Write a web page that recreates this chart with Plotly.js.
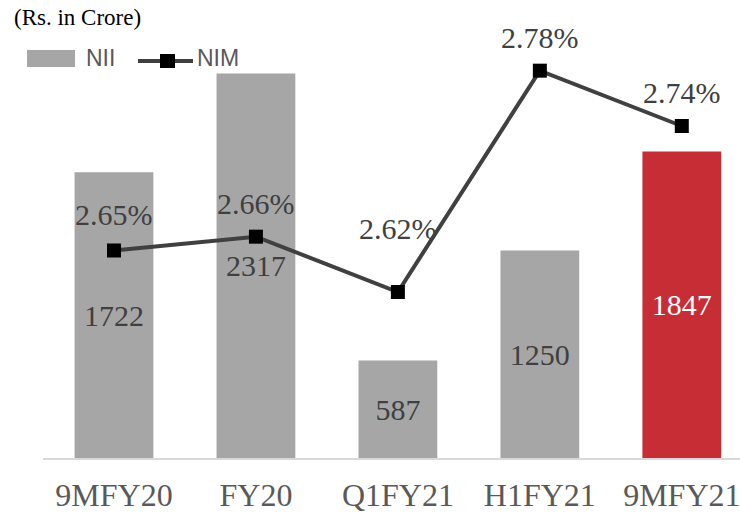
<!DOCTYPE html>
<html>
<head>
<meta charset="utf-8">
<script src="https://cdn.plot.ly/plotly-3.0.1.min.js"></script>
<style>html,body{margin:0;padding:0;background:#fff;}#chart{width:740px;height:513px;}</style>
</head>
<body>
<div id="chart"></div>
<script>
// ---- data ----
const categories = ["9MFY20", "FY20", "Q1FY21", "H1FY21", "9MFY21"];
const niiValues = [1722, 2317, 587, 1250, 1847];
const nimValues = [2.65, 2.66, 2.62, 2.78, 2.74];
const nimLabels = ["2.65%", "2.66%", "2.62%", "2.78%", "2.74%"];

// ---- style ----
const barColors = ["#a6a6a6", "#a6a6a6", "#a6a6a6", "#a6a6a6", "#c62d35"];
const barTextColors = ["#404040", "#404040", "#404040", "#404040", "#ffffff"];
const nimLabelShift = [36, 33, 64, 33, 34];
const serif = "Liberation Serif, Times New Roman, serif";
const sans = "Liberation Sans, Arial, sans-serif";

const W = 740, H = 513, mL = 43, mR = 0, mT = 43, mB = 55;
const pw = W - mL - mR, ph = H - mT - mB;
const px = v => (v - mL) / pw;
const py = v => (H - mB - v) / ph;

const traces = [
  {
    type: "bar",
    x: categories,
    y: niiValues,
    name: "NII",
    width: 0.555,
    marker: { color: barColors },
    text: niiValues.map(String),
    textposition: "inside",
    insidetextanchor: "middle",
    textangle: 0,
    constraintext: "none",
    textfont: { family: serif, size: 30, color: barTextColors },
    hoverinfo: "x+y",
    showlegend: false
  },
  {
    type: "scatter",
    mode: "lines+markers",
    x: categories,
    y: nimValues,
    yaxis: "y2",
    name: "NIM",
    line: { color: "#404040", width: 4 },
    marker: { symbol: "square", size: 14, color: "#000000" },
    showlegend: false
  }
];

const annotations = categories.map((c, i) => ({
  x: c, y: nimValues[i], xref: "x", yref: "y2",
  text: nimLabels[i], showarrow: false,
  yanchor: "middle", xanchor: "center", yshift: nimLabelShift[i],
  font: { family: serif, size: 30, color: "#404040" }
}));

annotations.push({
  xref: "paper", yref: "paper", x: px(12), y: py(18),
  xanchor: "left", yanchor: "middle", showarrow: false,
  text: "(Rs. in Crore)", font: { family: serif, size: 23, color: "#000000" }
});
annotations.push({
  xref: "paper", yref: "paper", x: px(84), y: py(58),
  xanchor: "left", yanchor: "middle", showarrow: false,
  text: "NII", font: { family: sans, size: 23, color: "#595959" }
});
annotations.push({
  xref: "paper", yref: "paper", x: px(195), y: py(58),
  xanchor: "left", yanchor: "middle", showarrow: false,
  text: "NIM", font: { family: sans, size: 23, color: "#595959" }
});

const shapes = [
  { type: "rect", xref: "paper", yref: "paper", x0: px(27), x1: px(75), y0: py(50), y1: py(67),
    fillcolor: "#a6a6a6", line: { width: 0 } },
  { type: "line", xref: "paper", yref: "paper", x0: px(138), x1: px(193), y0: py(61), y1: py(61),
    line: { color: "#404040", width: 4 } },
  { type: "rect", xref: "paper", yref: "paper", x0: px(160), x1: px(175), y0: py(54), y1: py(68),
    fillcolor: "#000000", line: { width: 0 } }
];

const layout = {
  width: W, height: H,
  margin: { l: mL, r: mR, t: mT, b: mB, pad: 0 },
  paper_bgcolor: "#ffffff", plot_bgcolor: "#ffffff",
  showlegend: false,
  bargap: 0.45,
  xaxis: {
    type: "category",
    range: [-0.5, 4.41],
    showline: true, linecolor: "#d9d9d9", linewidth: 2,
    ticks: "", showgrid: false, zeroline: false,
    tickfont: { family: serif, size: 32, color: "#595959" },
    ticklabelstandoff: 8,
    fixedrange: true
  },
  yaxis: {
    range: [0, 2500], visible: false, showgrid: false, zeroline: false
  },
  yaxis2: {
    range: [2.5, 2.8], overlaying: "y", side: "right", visible: false,
    showgrid: false, zeroline: false
  },
  annotations: annotations,
  shapes: shapes
};

Plotly.newPlot("chart", traces, layout, { displayModeBar: false, staticPlot: true });
</script>
</body>
</html>
